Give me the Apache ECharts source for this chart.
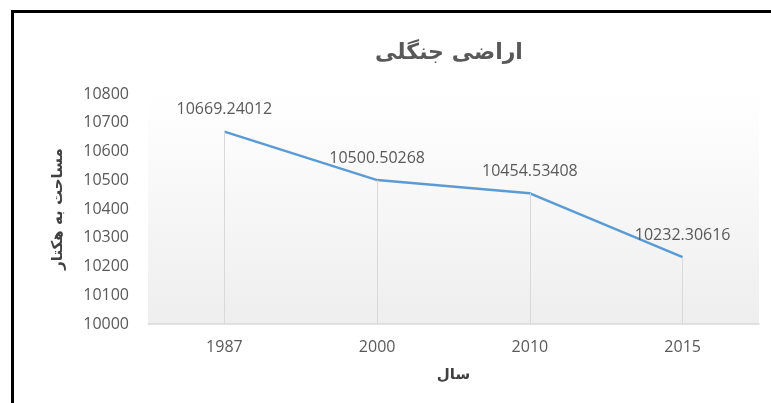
<!DOCTYPE html>
<html>
<head>
<meta charset="utf-8">
<script src="https://cdn.jsdelivr.net/npm/echarts@6/dist/echarts.min.js"></script>
<style>
  html, body { margin: 0; padding: 0; background: #fff; }
  #chart { width: 771px; height: 403px; }
</style>
</head>
<body>
<div id="chart"></div>
<script>
const years = ['1987', '2000', '2010', '2015'];
const area = [10669.24012, 10500.50268, 10454.53408, 10232.30616];
const yMin = 10000, yMax = 10800, yStep = 100;

const chartDom = document.getElementById('chart');
const myChart = echarts.init(chartDom);

// light drop lines from the axis up to each point
const dropLines = years.map((y, i) => [
  { coord: [y, yMin] },
  { coord: [y, area[i]] }
]);

const numFont = 'Open Sans';
const faFont = 'DejaVu Sans';

let option = {
  animation: false,
  title: {
    text: 'اراضی جنگلی',
    left: 444,
    top: 37,
    textAlign: 'center',
    textStyle: {
      fontFamily: faFont,
      fontWeight: 'bold',
      fontSize: 22,
      color: '#595959'
    }
  },
  // only the top and left edges of the frame are in view
  graphic: [
    {
      type: 'line',
      shape: { x1: 11, y1: 11.5, x2: 771, y2: 11.5 },
      style: { stroke: '#000', lineWidth: 3 },
      silent: true
    },
    {
      type: 'line',
      shape: { x1: 12.5, y1: 10, x2: 12.5, y2: 403 },
      style: { stroke: '#000', lineWidth: 3 },
      silent: true
    }
  ],
  grid: {
    left: 148,
    right: 12,
    top: 94,
    bottom: 79,
    show: true,
    borderWidth: 0,
    backgroundColor: {
      type: 'linear', x: 0, y: 0, x2: 0, y2: 1,
      colorStops: [
        { offset: 0, color: '#ffffff' },
        { offset: 1, color: '#eeeeee' }
      ]
    }
  },
  xAxis: {
    type: 'category',
    data: years,
    boundaryGap: true,
    name: 'سال',
    nameLocation: 'middle',
    nameGap: 44,
    nameTextStyle: {
      fontFamily: faFont,
      fontWeight: 'bold',
      fontSize: 15,
      color: '#404040'
    },
    axisLine: { lineStyle: { color: '#d9d9d9', width: 1.5 } },
    axisTick: { show: false },
    axisLabel: {
      margin: 15,
      fontFamily: numFont,
      fontSize: 16,
      color: '#595959'
    }
  },
  yAxis: {
    type: 'value',
    min: yMin,
    max: yMax,
    interval: yStep,
    name: 'مساحت به هکتار',
    nameLocation: 'middle',
    nameGap: 82,
    nameRotate: 90,
    nameTextStyle: {
      fontFamily: faFont,
      fontWeight: 'bold',
      fontSize: 15,
      color: '#404040'
    },
    axisLine: { show: false },
    axisTick: { show: false },
    splitLine: { show: false },
    axisLabel: {
      margin: 19,
      fontFamily: numFont,
      fontSize: 16,
      color: '#595959',
      formatter: v => String(v)
    }
  },
  series: [
    {
      type: 'line',
      data: area,
      symbol: 'circle',
      symbolSize: 0,
      showSymbol: true,
      lineStyle: { color: '#5b9bd5', width: 2.5 },
      itemStyle: { color: '#5b9bd5' },
      label: {
        show: true,
        position: 'top',
        distance: 14,
        fontFamily: numFont,
        fontSize: 16,
        color: '#595959',
        formatter: p => String(p.value)
      },
      markLine: {
        silent: true,
        symbol: 'none',
        label: { show: false },
        lineStyle: { color: '#d9d9d9', width: 1, type: 'solid' },
        data: dropLines
      },
      z: 3
    }
  ]
};

option && myChart.setOption(option);
</script>
</body>
</html>
